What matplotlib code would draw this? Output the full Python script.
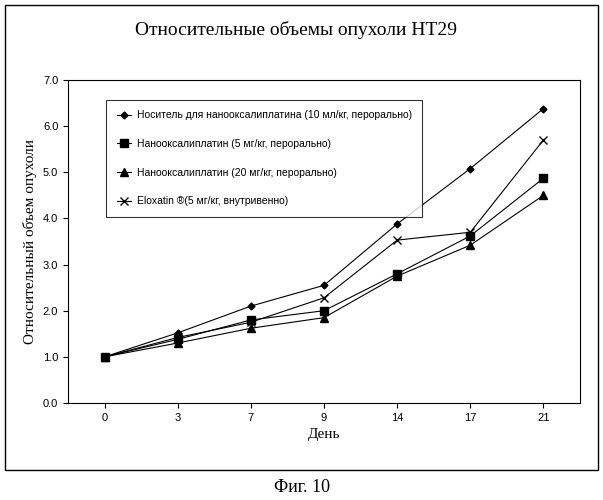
import matplotlib
matplotlib.use("Agg")
import matplotlib.pyplot as plt
from matplotlib.patches import Rectangle

days = ["0", "3", "7", "9", "14", "17", "21"]
vehicle = [1.0, 1.52, 2.1, 2.55, 3.88, 5.08, 6.38]
nano5 = [1.0, 1.38, 1.8, 2.0, 2.8, 3.62, 4.87]
nano20 = [1.0, 1.3, 1.62, 1.85, 2.75, 3.42, 4.5]
eloxatin = [1.0, 1.42, 1.75, 2.28, 3.53, 3.7, 5.7]
labels = ["Носитель для нанооксалиплатина (10 мл/кг, перорально)",
          "Нанооксалиплатин (5 мг/кг, перорально)",
          "Нанооксалиплатин (20 мг/кг, перорально)",
          "Eloxatin ®(5 мг/кг, внутривенно)"]

plt.rcParams["font.family"] = "Liberation Serif"
fig = plt.figure(figsize=(6.03, 5.0), dpi=100)
fig.patches.append(Rectangle((5/603, 1-470/500), 593/603, 465/500, transform=fig.transFigure,
                             fill=False, edgecolor="black", linewidth=1))
ax = fig.add_axes([68/603, 1-403/500, 512/603, 323/500])
x = range(len(days))
ax.plot(x, vehicle, marker="D", markersize=3.5, color="black", lw=0.8, label=labels[0])
ax.plot(x, nano5, marker="s", markersize=5.5, color="black", lw=0.8, label=labels[1])
ax.plot(x, nano20, marker="^", markersize=5.5, color="black", lw=0.8, label=labels[2])
ax.plot(x, eloxatin, marker="x", markersize=6, color="black", lw=0.8, label=labels[3])
ax.set_xlim(-0.5, 6.5)
ax.set_ylim(0, 7)
ax.set_yticks([i for i in range(8)])
ax.set_yticklabels([f"{i:.1f}" for i in range(8)], fontfamily="Liberation Sans", fontsize=8)
ax.set_xticks(list(x))
ax.set_xticklabels(days, fontfamily="Liberation Sans", fontsize=8)
ax.set_xlabel("День", fontsize=11)
ax.set_ylabel("Относительный объем опухоли", fontsize=11)
leg = ax.legend(loc="upper left", bbox_to_anchor=(0.065, 0.955), prop={"family": "Liberation Sans", "size": 7.5},
                frameon=True, fancybox=False, edgecolor="black", labelspacing=1.8, borderpad=1.0,
                handlelength=1.4, handletextpad=0.5)
leg.get_frame().set_linewidth(0.8)
fig.text(135/603, 1-30/500, "Относительные объемы опухоли HT29", fontsize=14, va="center")
fig.text(0.5, 1-487/500, "Фиг. 10", fontsize=13, ha="center", va="center")
fig.savefig("out.png", dpi=100)
